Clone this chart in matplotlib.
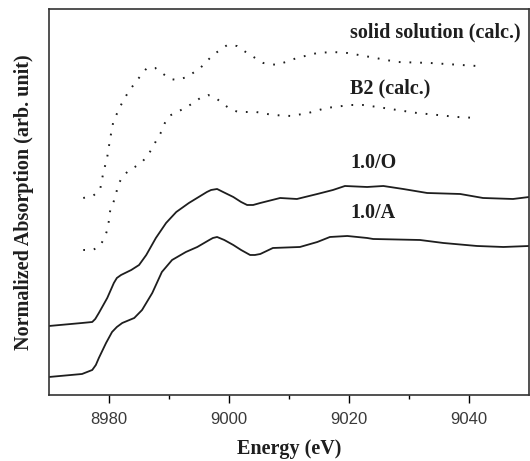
import matplotlib
matplotlib.use("Agg")
import matplotlib.pyplot as plt
import numpy as np

# 1.0/O measured spectrum (offset for display)
e_o = [8970, 8975.5, 8977.2, 8977.7, 8978.3, 8979.7, 8980.8, 8981.3, 8982.0, 8983.7,
       8985.0, 8986.2, 8987.8, 8989.5, 8991.2, 8993.3, 8996.3, 8997.0, 8998.0, 8999.0,
       9000.7, 9002.0, 9003.0, 9004.0, 9005.2, 9008.5, 9011.3, 9014.7, 9017.3, 9019.3,
       9023.0, 9025.7, 9029.0, 9033.0, 9038.5, 9042.3, 9047.3, 9050.0]
mu_o = [0.69, 0.72, 0.73, 0.76, 0.82, 0.97, 1.12, 1.17, 1.20, 1.25,
        1.30, 1.40, 1.57, 1.72, 1.83, 1.92, 2.03, 2.05, 2.06, 2.03,
        1.98, 1.93, 1.90, 1.90, 1.92, 1.97, 1.96, 2.01, 2.05, 2.09,
        2.08, 2.09, 2.06, 2.02, 2.01, 1.97, 1.96, 1.98]

# 1.0/A measured spectrum
e_a = [8970, 8975.5, 8977.2, 8977.8, 8978.3, 8979.5, 8980.5, 8981.3, 8982.2, 8984.2,
       8985.5, 8987.2, 8988.8, 8990.5, 8992.8, 8994.7, 8996.7, 8997.3, 8998.0, 8999.2,
       9000.7, 9002.0, 9003.5, 9004.3, 9005.2, 9007.3, 9011.8, 9014.7, 9016.8, 9019.7,
       9023.0, 9024.0, 9031.8, 9035.7, 9041.3, 9045.7, 9050.0]
mu_a = [0.18, 0.21, 0.25, 0.30, 0.37, 0.52, 0.63, 0.68, 0.72, 0.77,
        0.85, 1.02, 1.23, 1.35, 1.43, 1.48, 1.55, 1.57, 1.58, 1.55,
        1.50, 1.45, 1.40, 1.40, 1.41, 1.47, 1.48, 1.53, 1.58, 1.59,
        1.57, 1.56, 1.55, 1.52, 1.49, 1.48, 1.49]

# solid solution (calc.)
e_ss = [8975.7, 8977.3, 8978.5, 8979.0, 8979.7, 8980.2, 8980.7, 8981.8, 8983.2, 8984.7,
        8986.3, 8987.7, 8988.8, 8990.2, 8991.3, 8993.0, 8995.2, 8997.3, 8999.7, 9001.3,
        9003.0, 9005.7, 9008.0, 9011.3, 9014.7, 9017.3, 9019.7, 9023.5, 9028.0, 9033.5,
        9041.3]
mu_ss = [1.97, 1.99, 2.05, 2.21, 2.38, 2.57, 2.73, 2.88, 3.03, 3.15,
         3.27, 3.27, 3.22, 3.16, 3.15, 3.18, 3.27, 3.40, 3.50, 3.49,
         3.42, 3.32, 3.30, 3.37, 3.42, 3.43, 3.42, 3.38, 3.33, 3.32,
         3.29]

# B2 (calc.)
e_b2 = [8975.7, 8977.3, 8978.5, 8979.3, 8979.7, 8980.0, 8980.2, 8980.7, 8981.2, 8981.5,
        8982.2, 8983.2, 8984.3, 8985.5, 8986.5, 8987.3, 8988.0, 8988.7, 8989.3, 8990.0,
        8991.3, 8992.7, 8994.0, 8995.2, 8996.5, 8997.8, 8999.0, 9000.2, 9001.5, 9004.5,
        9007.3, 9010.3, 9013.2, 9016.2, 9020.2, 9022.3, 9024.7, 9028.0, 9031.3, 9034.7,
        9038.0, 9041.3]
mu_b2 = [1.45, 1.45, 1.49, 1.58, 1.65, 1.75, 1.85, 1.92, 2.02, 2.10,
         2.18, 2.24, 2.28, 2.33, 2.40, 2.48, 2.56, 2.63, 2.72, 2.79,
         2.83, 2.87, 2.92, 2.97, 3.00, 2.97, 2.91, 2.86, 2.83, 2.83,
         2.80, 2.79, 2.82, 2.87, 2.90, 2.90, 2.88, 2.85, 2.82, 2.80,
         2.78, 2.77]

labels = ["solid solution (calc.)", "B2 (calc.)", "1.0/O", "1.0/A"]
label_y = [3.63, 3.07, 2.32, 1.82]

fig = plt.figure(figsize=(5.30, 4.61), dpi=100)
ax = fig.add_axes([0.0925, 0.1432, 0.906, 0.8373])

ink = "#1e1e1e"
dots = (0, (0.9, 4.6))
ax.plot(e_ss, mu_ss, color=ink, lw=1.4, linestyle=dots)
ax.plot(e_b2, mu_b2, color=ink, lw=1.4, linestyle=dots)
ax.plot(e_o, mu_o, color=ink, lw=1.3)
ax.plot(e_a, mu_a, color=ink, lw=1.3)

serif = ["Liberation Serif", "DejaVu Serif"]
for txt, yy in zip(labels, label_y):
    ax.text(9020.2, yy, txt, fontsize=14.5, fontweight="bold", family=serif,
            color=ink, va="center", ha="left")

ax.set_xlim(8970, 9050)
ax.set_ylim(0, 3.86)
ax.set_xticks([8980, 9000, 9020, 9040])
ax.set_xticks([8990, 9010, 9030], minor=True)
ax.set_yticks([])
ax.tick_params(axis="x", direction="out", length=6, width=1, labelsize=12,
               labelcolor="#3a3a3a", pad=6)
ax.tick_params(axis="x", which="minor", direction="out", length=3, width=1)
for lab in ax.get_xticklabels():
    lab.set_family(["Liberation Sans", "DejaVu Sans"])
for sp in ax.spines.values():
    sp.set_linewidth(1.2)
    sp.set_color("#333333")

ax.set_xlabel("Energy (eV)", fontsize=14.5, fontweight="bold", family=serif,
              color=ink, labelpad=9)
ax.set_ylabel("Normalized Absorption (arb. unit)", fontsize=14.5, fontweight="bold",
              family=serif, color=ink, labelpad=11)

fig.savefig("out.png", dpi=100)
